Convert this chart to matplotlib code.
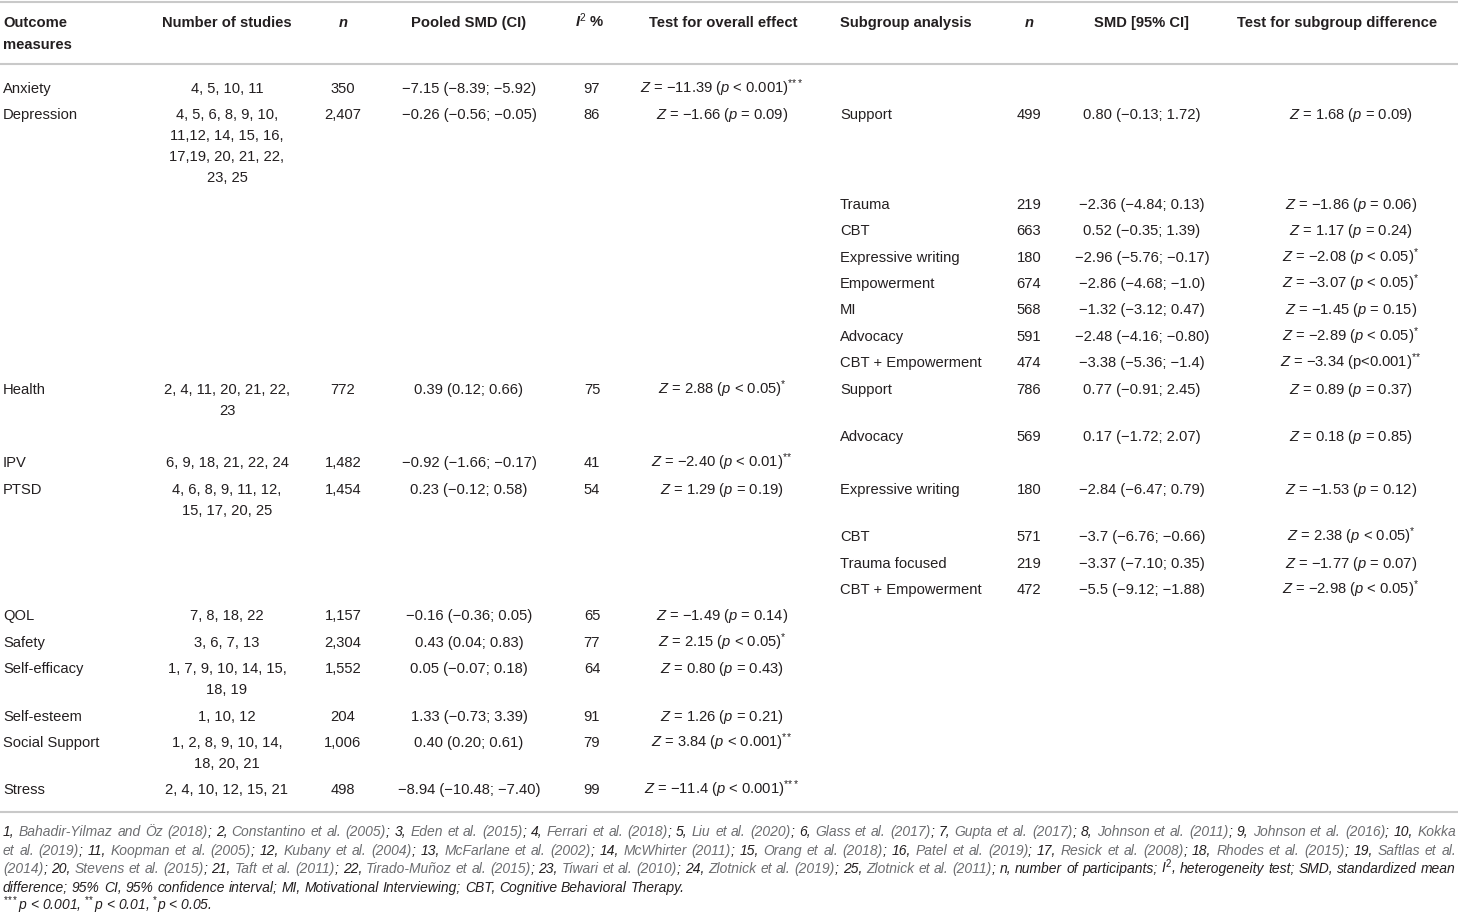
import re
import matplotlib
matplotlib.use("Agg")
import matplotlib.pyplot as plt

plt.rcParams['font.family'] = ['Liberation Sans', 'DejaVu Sans']
plt.rcParams['mathtext.fontset'] = 'custom'
plt.rcParams['mathtext.rm'] = 'Liberation Sans'
plt.rcParams['mathtext.it'] = 'Liberation Sans:italic'
plt.rcParams['mathtext.bf'] = 'Liberation Sans:bold:italic'

# ---- table data ----
headers = ["Outcome\nmeasures", "Number of studies", "n", "Pooled SMD (CI)", "I2 %",
           "Test for overall effect", "Subgroup analysis", "n", "SMD [95% CI]",
           "Test for subgroup difference"]

outcomes = ["Anxiety", "Depression", "Health", "IPV", "PTSD", "QOL", "Safety",
            "Self-efficacy", "Self-esteem", "Social Support", "Stress"]
studies = ["4, 5, 10, 11",
           "4, 5, 6, 8, 9, 10,\n11,12, 14, 15, 16,\n17,19, 20, 21, 22,\n23, 25",
           "2, 4, 11, 20, 21, 22,\n23",
           "6, 9, 18, 21, 22, 24",
           "4, 6, 8, 9, 11, 12,\n15, 17, 20, 25",
           "7, 8, 18, 22",
           "3, 6, 7, 13",
           "1, 7, 9, 10, 14, 15,\n18, 19",
           "1, 10, 12",
           "1, 2, 8, 9, 10, 14,\n18, 20, 21",
           "2, 4, 10, 12, 15, 21"]
n_part = ["350", "2,407", "772", "1,482", "1,454", "1,157", "2,304", "1,552",
          "204", "1,006", "498"]
pooled = ["−7.15 (−8.39; −5.92)", "−0.26 (−0.56; −0.05)", "0.39 (0.12; 0.66)",
          "−0.92 (−1.66; −0.17)", "0.23 (−0.12; 0.58)", "−0.16 (−0.36; 0.05)",
          "0.43 (0.04; 0.83)", "0.05 (−0.07; 0.18)", "1.33 (−0.73; 3.39)",
          "0.40 (0.20; 0.61)", "−8.94 (−10.48; −7.40)"]
i2 = [97, 86, 75, 41, 54, 65, 77, 64, 91, 79, 99]
overall = ["Z = −11.39 (p < 0.001)***", "Z = −1.66 (p = 0.09)",
           "Z = 2.88 (p < 0.05)*", "Z = −2.40 (p < 0.01)**",
           "Z = 1.29 (p = 0.19)", "Z = −1.49 (p = 0.14)",
           "Z = 2.15 (p < 0.05)*", "Z = 0.80 (p = 0.43)",
           "Z = 1.26 (p = 0.21)", "Z = 3.84 (p < 0.001)**",
           "Z = −11.4 (p < 0.001)***"]

sub_parent = ["Depression"] * 8 + ["Health"] * 2 + ["PTSD"] * 4
sub_names = ["Support", "Trauma", "CBT", "Expressive writing", "Empowerment", "MI",
             "Advocacy", "CBT + Empowerment", "Support", "Advocacy",
             "Expressive writing", "CBT", "Trauma focused", "CBT + Empowerment"]
sub_n = ["499", "219", "663", "180", "674", "568", "591", "474", "786", "569",
         "180", "571", "219", "472"]
sub_smd = ["0.80 (−0.13; 1.72)", "−2.36 (−4.84; 0.13)", "0.52 (−0.35; 1.39)",
           "−2.96 (−5.76; −0.17)", "−2.86 (−4.68; −1.0)", "−1.32 (−3.12; 0.47)",
           "−2.48 (−4.16; −0.80)", "−3.38 (−5.36; −1.4)", "0.77 (−0.91; 2.45)",
           "0.17 (−1.72; 2.07)", "−2.84 (−6.47; 0.79)", "−3.7 (−6.76; −0.66)",
           "−3.37 (−7.10; 0.35)", "−5.5 (−9.12; −1.88)"]
sub_test = ["Z = 1.68 (p = 0.09)", "Z = −1.86 (p = 0.06)", "Z = 1.17 (p = 0.24)",
            "Z = −2.08 (p < 0.05)*", "Z = −3.07 (p < 0.05)*", "Z = −1.45 (p = 0.15)",
            "Z = −2.89 (p < 0.05)*", "Z = −3.34 (p<0.001)**", "Z = 0.89 (p = 0.37)",
            "Z = 0.18 (p = 0.85)", "Z = −1.53 (p = 0.12)", "Z = 2.38 (p < 0.05)*",
            "Z = −1.77 (p = 0.07)", "Z = −2.98 (p < 0.05)*"]

references = ["Bahadir-Yilmaz and Öz (2018)", "Constantino et al. (2005)",
              "Eden et al. (2015)", "Ferrari et al. (2018)", "Liu et al. (2020)",
              "Glass et al. (2017)", "Gupta et al. (2017)", "Johnson et al. (2011)",
              "Johnson et al. (2016)", "Kokka et al. (2019)", "Koopman et al. (2005)",
              "Kubany et al. (2004)", "McFarlane et al. (2002)", "McWhirter (2011)",
              "Orang et al. (2018)", "Patel et al. (2019)", "Resick et al. (2008)",
              "Rhodes et al. (2015)", "Saftlas et al. (2014)", "Stevens et al. (2015)",
              "Taft et al. (2011)", "Tirado-Muñoz et al. (2015)", "Tiwari et al. (2010)",
              "Zlotnick et al. (2019)", "Zlotnick et al. (2011)"]
abbrev = ("n, number of participants; I2, heterogeneity test; SMD, standardized mean "
          "difference; 95% CI, 95% confidence interval; MI, Motivational Interviewing; "
          "CBT, Cognitive Behavioral Therapy.")
# words after which the printed footnote breaks
breaks_after = ["Kokka", "Saftlas et al.", "standardized mean"]

TXT = "#231f20"
GREY = "#6d6e71"
RULE = "#c9c9c9"
FS = 10.6

fig = plt.figure(figsize=(14.58, 9.22), dpi=100)
ax = fig.add_axes([0, 0, 1, 1])
ax.set_xlim(0, 1458)
ax.set_ylim(922, 0)
ax.axis("off")


def stars(n):
    return "$^{" + r"\!".join(["*"] * n) + "}$"


def mt(s):
    s = s.replace("Z =", "$Z$ =").replace("(p ", "($p$ ")
    m = re.search(r"(\*+)$", s)
    if m:
        s = s[:m.start()] + stars(len(m.group(1)))
    return s


# rules
for yy in (2.5, 64, 812):
    ax.plot([0, 1458], [yy, yy], color=RULE, lw=1.5, solid_capstyle="butt")

# column anchors
cols = [(3, "left"), (227, "center"), (343, "center"), (469, "center"), (592, "center"),
        (722, "center"), (840, "left"), (1029, "center"), (1142, "center"), (1351, "center")]

head_x = [3, 227, 343, 469, 590, 723, 840, 1029, 1142, 1337]
for k, h in enumerate(headers):
    ha = cols[k][1]
    if h == "n":
        ax.text(head_x[k], 27, "n", ha=ha, va="baseline", fontsize=FS, fontweight="bold",
                fontstyle="italic", color=TXT)
    elif h.startswith("I2"):
        ax.text(head_x[k], 27, r"$\mathbf{I}^{2}$ %", ha=ha, va="baseline", fontsize=FS,
                fontweight="bold", color=TXT)
    else:
        for j, line in enumerate(h.split("\n")):
            ax.text(head_x[k], 27 + j * 22, line, ha=ha, va="baseline", fontsize=FS,
                    fontweight="bold", color=TXT)

ROW = 26.4
LINE = 21
y = 93


def put(col, yy, s):
    ax.text(cols[col][0], yy, s, ha=cols[col][1], va="baseline", fontsize=FS, color=TXT)


def put_sub(idx, yy):
    put(6, yy, sub_names[idx])
    put(7, yy, sub_n[idx])
    put(8, yy, sub_smd[idx])
    put(9, yy, mt(sub_test[idx]))


for i, name in enumerate(outcomes):
    put(0, y, name)
    lines = studies[i].split("\n")
    for j, ln in enumerate(lines):
        put(1, y + j * LINE, ln)
    put(2, y, n_part[i])
    put(3, y, pooled[i])
    put(4, y, str(i2[i]))
    put(5, y, mt(overall[i]))
    subs = [k for k, p in enumerate(sub_parent) if p == name]
    nxt = y + (len(lines) - 1) * LINE + ROW
    if subs:
        put_sub(subs[0], y)
        for k in subs[1:]:
            put_sub(k, nxt)
            nxt += ROW
    y = nxt

# ---- footnote ----
words = []  # each word: list of (text, color)
for r_i, ref in enumerate(references):
    words.append([(f"{r_i + 1},", TXT)])
    parts = ref.split(" ")
    for p_i, p in enumerate(parts):
        if p_i == len(parts) - 1:
            words.append([(p, GREY), (";", TXT)])
        else:
            words.append([(p, GREY)])
for w in abbrev.split(" "):
    if w == "I2,":
        words.append([(r"$I^{2}$,", TXT)])
    else:
        words.append([(w, TXT)])

# line break positions
flat = ["".join(t for t, _ in w) for w in words]
flat = [f.rstrip(";") for f in flat]
break_idx = []
start = 0
for key in breaks_after:
    kw = key.split(" ")
    for j in range(start, len(flat)):
        if flat[j:j + len(kw)] == kw:
            break_idx.append(j + len(kw))
            start = j + len(kw)
            break
lines_w = []
prev = 0
for b in break_idx:
    lines_w.append(words[prev:b])
    prev = b
lines_w.append(words[prev:])

renderer = fig.canvas.get_renderer()


def draw_word(x0, yy, w, fs):
    x = x0
    for t, c in w:
        tx = ax.text(x, yy, t, ha="left", va="baseline", fontsize=fs, fontstyle="italic",
                     color=c)
        x += tx.get_window_extent(renderer).width
    return x - x0


def measure(w, fs):
    tot = 0
    for t, c in w:
        tx = ax.text(0, 0, t, fontsize=fs, fontstyle="italic")
        tot += tx.get_window_extent(renderer).width
        tx.remove()
    return tot


def space_w(fs):
    a = ax.text(0, 0, "a a", fontsize=fs, fontstyle="italic")
    b = ax.text(0, 0, "aa", fontsize=fs, fontstyle="italic")
    s = a.get_window_extent(renderer).width - b.get_window_extent(renderer).width
    a.remove()
    b.remove()
    return s


FFS = 9.0
last_w = sum(measure(w, FFS) for w in lines_w[-1]) + space_w(FFS) * (len(lines_w[-1]) - 1)
FFS = FFS * 683 / last_w
sp = space_w(FFS)

fy = 836
for li, lw in enumerate(lines_w):
    widths = [measure(w, FFS) for w in lw]
    if li < len(lines_w) - 1:
        gap = (1456 - 3 - sum(widths)) / (len(lw) - 1)
    else:
        gap = sp
    x = 3
    for w, wd in zip(lw, widths):
        draw_word(x, fy, w, FFS)
        x += wd + gap
    fy += 18.5

ax.text(3, 910, stars(3) + "$p$ < 0.001, " + stars(2) + "$p$ < 0.01, " + stars(1)
        + "$p$ < 0.05.", ha="left", va="baseline", fontsize=FFS, fontstyle="italic",
        color=TXT)

fig.savefig("out.png", dpi=100)
